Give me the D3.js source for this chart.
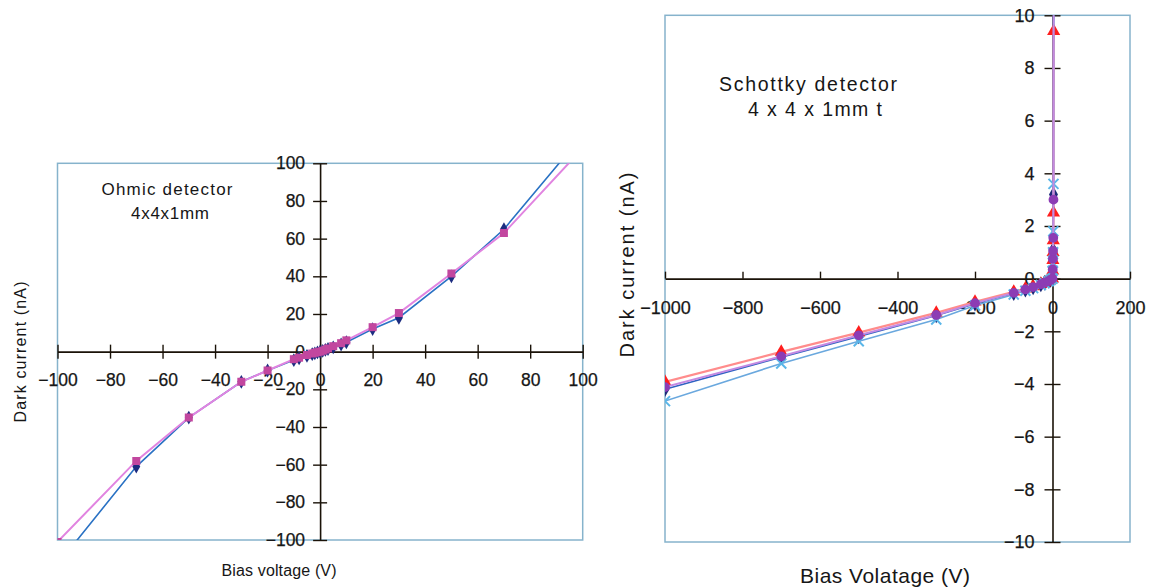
<!DOCTYPE html>
<html>
<head>
<meta charset="utf-8">
<script src="https://cdn.jsdelivr.net/npm/d3@7"></script>
<style>
  html, body { margin: 0; padding: 0; background: #fff; }
  svg { display: block; font-family: "Liberation Sans", Arial, sans-serif; }
</style>
</head>
<body>
<svg id="chart" width="1156" height="588"></svg>
<script>
// ---- Ohmic detector (4x4x1 mm): bias voltage (V) vs dark current (nA)
const ohmicVoltage = [-100, -70, -50, -30, -20, -10, -8, -5, -3, -2, -1, 0, 1, 2, 3, 5, 8, 10, 20, 30, 50, 70, 100];
const ohmicRunA    = [-113, -61, -35, -16, -10, -4.5, -3.5, -2.2, -1.3, -0.9, -0.4, 0, 0.4, 0.9, 1.4, 2.3, 3.8, 5, 12, 18, 40, 65, 115];
const ohmicRunB    = [-101, -58, -35, -16, -10, -4, -3.2, -1.8, -1, -0.6, -0.3, 0, 0.5, 1.1, 1.7, 2.9, 4.5, 6, 13, 20.5, 41.5, 63, 108];
const ohmicXTicks  = [-100, -80, -60, -40, -20, 0, 20, 40, 60, 80, 100];
const ohmicYTicks  = [-100, -80, -60, -40, -20, 0, 20, 40, 60, 80, 100];

// ---- Schottky detector (4x4x1 mm t): bias voltage (V) vs dark current (nA)
const schottkyVoltage = [-1000, -700, -500, -300, -200, -100, -70, -50, -30, -20, -10, -5, 0, 0.5, 1, 1.5, 2, 2.5, 3];
const schottkyRun1 = [-4.2, -2.98, -2.2, -1.4, -0.95, -0.55, -0.42, -0.33, -0.22, -0.16, -0.09, -0.05, 0, 0.3, 0.7, 1.1, 1.6, 3.2, 13];
const schottkyRun2 = [-3.92, -2.78, -2.05, -1.3, -0.88, -0.5, -0.38, -0.3, -0.2, -0.14, -0.08, -0.04, 0, 0.3, 0.7, 1.0, 1.45, 2.5, 9.4];
const schottkyRun3 = [-4.65, -3.22, -2.38, -1.55, -1.02, -0.6, -0.46, -0.36, -0.24, -0.17, -0.1, -0.05, 0, 0.3, 0.6, 1.0, 1.8, 3.6, 15];
const schottkyRun4 = [-4.12, -2.95, -2.15, -1.38, -0.93, -0.54, -0.41, -0.32, -0.21, -0.15, -0.09, -0.05, 0, 0.35, 0.75, 1.05, 1.55, 3.0, 14];
const schottkyXTicks = [-1000, -800, -600, -400, -200, 0, 200];
const schottkyYTicks = [-10, -8, -6, -4, -2, 0, 2, 4, 6, 8, 10];

const svg = d3.select("#chart");
const fmt = d3.format("");
const TEXT = "#161616";
const AXIS = "#1a1208";
const FRAME = "#86b3cc";

// Marker shapes
const diamond = d3.symbol().type(d3.symbolDiamond);
const square = d3.symbol().type(d3.symbolSquare);
const triangle = d3.symbol().type(d3.symbolTriangle);
const circle = d3.symbol().type(d3.symbolCircle);
const xMark = s => `M${-s},${-s}L${s},${s}M${-s},${s}L${s},${-s}`;

function drawPanel(cfg) {
  const g = svg.append("g");
  const x = d3.scaleLinear().domain(cfg.xDomain).range([cfg.left, cfg.right]);
  const y = d3.scaleLinear().domain(cfg.yDomain).range([cfg.bottom, cfg.top]);

  // plot area frame
  g.append("rect")
    .attr("x", cfg.left).attr("y", cfg.top)
    .attr("width", cfg.right - cfg.left).attr("height", cfg.bottom - cfg.top)
    .attr("fill", "#fff").attr("stroke", FRAME).attr("stroke-width", 1.5);

  const clipId = cfg.id + "-clip";
  svg.append("defs").append("clipPath").attr("id", clipId)
    .append("rect")
    .attr("x", cfg.left).attr("y", cfg.top)
    .attr("width", cfg.right - cfg.left).attr("height", cfg.bottom - cfg.top);

  // x axis through y = 0
  const xAxis = g.append("g")
    .attr("transform", `translate(0,${y(0)})`)
    .call(d3.axisBottom(x).tickValues(cfg.xTicks).tickFormat(fmt)
      .tickSizeOuter(0).tickSizeInner(0).tickPadding(cfg.xLabelPad));
  xAxis.select(".domain").attr("stroke", AXIS).attr("stroke-width", 1.6);
  xAxis.selectAll(".tick line")
    .attr("y1", cfg.xTickUp).attr("y2", cfg.xTickDown)
    .attr("stroke", AXIS).attr("stroke-width", 1.4);

  // y axis through x = 0
  const yAxis = g.append("g")
    .attr("transform", `translate(${x(0)},0)`)
    .call(d3.axisLeft(y).tickValues(cfg.yTicks).tickFormat(fmt)
      .tickSizeOuter(0).tickSizeInner(cfg.yTickHalf).tickPadding(cfg.yLabelPad));
  yAxis.select(".domain").attr("stroke", AXIS).attr("stroke-width", 1.6);
  yAxis.selectAll(".tick line")
    .attr("x1", -cfg.yTickHalf).attr("x2", cfg.yTickHalf)
    .attr("stroke", AXIS).attr("stroke-width", 1.4);

  [xAxis, yAxis].forEach(a => {
    a.attr("font-family", null).attr("font-size", null);
    a.selectAll(".tick text")
      .attr("fill", TEXT)
      .attr("stroke", TEXT).attr("stroke-width", 0.25)
      .style("font-size", cfg.tickFont + "px");
  });

  // data series
  const plot = g.append("g").attr("clip-path", `url(#${clipId})`);
  cfg.series.forEach(s => {
    const pts = cfg.xs.map((v, i) => [v, s.values[i]]);
    plot.append("path")
      .datum(pts)
      .attr("fill", "none")
      .attr("stroke", s.line)
      .attr("stroke-width", s.lineWidth)
      .attr("d", d3.line().x(d => x(d[0])).y(d => y(d[1])));
    const m = plot.append("g");
    pts.forEach(d => {
      const t = `translate(${x(d[0])},${y(d[1])})`;
      if (s.shape === "x") {
        m.append("path").attr("d", xMark(s.size)).attr("transform", t)
          .attr("fill", "none").attr("stroke", s.marker).attr("stroke-width", 2);
      } else {
        m.append("path").attr("d", s.shape.size(s.size)()).attr("transform", t)
          .attr("fill", s.marker);
      }
    });
  });

  // axis titles
  g.append("text")
    .attr("x", cfg.xTitle[0]).attr("y", cfg.xTitle[1])
    .attr("text-anchor", "middle").attr("dominant-baseline", "central")
    .attr("fill", TEXT).style("font-size", cfg.xTitle[2] + "px")
    .attr("textLength", cfg.xTitle[3]).attr("lengthAdjust", "spacing")
    .text(cfg.xTitleText);
  g.append("text")
    .attr("transform", `translate(${cfg.yTitle[0]},${cfg.yTitle[1]}) rotate(-90)`)
    .attr("text-anchor", "middle").attr("dominant-baseline", "central")
    .attr("fill", TEXT).style("font-size", cfg.yTitle[2] + "px")
    .attr("textLength", cfg.yTitle[3]).attr("lengthAdjust", "spacing")
    .text(cfg.yTitleText);

  // in-plot caption
  cfg.caption.forEach(c => {
    g.append("text")
      .attr("x", c[1]).attr("y", c[2])
      .attr("text-anchor", "middle").attr("dominant-baseline", "central")
      .attr("fill", TEXT).style("font-size", c[3] + "px")
      .attr("textLength", c[4]).attr("lengthAdjust", "spacing")
      .text(c[0]);
  });
}

drawPanel({
  id: "ohmic",
  left: 57.5, right: 582.7, top: 163.3, bottom: 540,
  xDomain: [-100, 100], yDomain: [-100, 100],
  xTicks: ohmicXTicks, yTicks: ohmicYTicks,
  xLabelPad: 22, xTickUp: -7, xTickDown: 7,
  yTickHalf: 7, yLabelPad: 8, tickFont: 17.5,
  xs: ohmicVoltage,
  series: [
    { values: ohmicRunA, line: "#2a72c4", lineWidth: 1.6, marker: "#1c2c80", shape: diamond, size: 55 },
    { values: ohmicRunB, line: "#e184e0", lineWidth: 2, marker: "#c2479f", shape: square, size: 64 }
  ],
  xTitleText: "Bias voltage (V)", xTitle: [279, 570, 16, 115],
  yTitleText: "Dark current (nA)", yTitle: [20, 352, 16, 141],
  caption: [["Ohmic detector", 167, 189, 17, 131], ["4x4x1mm", 170, 213, 17, 78]]
});

drawPanel({
  id: "schottky",
  left: 665, right: 1130, top: 15.3, bottom: 542,
  xDomain: [-1000, 200], yDomain: [-10, 10],
  xTicks: schottkyXTicks, yTicks: schottkyYTicks,
  xLabelPad: 23, xTickUp: -7, xTickDown: 0,
  yTickHalf: 8, yLabelPad: 10, tickFont: 18,
  xs: schottkyVoltage,
  series: [
    { values: schottkyRun1, line: "#2f62c2", lineWidth: 1.6, marker: "#1d2a7a", shape: diamond, size: 70 },
    { values: schottkyRun2, line: "#ff8c8c", lineWidth: 2.2, marker: "#ff1e1e", shape: triangle, size: 75 },
    { values: schottkyRun3, line: "#6aa8de", lineWidth: 1.6, marker: "#5ab6e8", shape: "x", size: 5 },
    { values: schottkyRun4, line: "#c48ae2", lineWidth: 2, marker: "#8c3cb4", shape: circle, size: 75 }
  ],
  xTitleText: "Bias Volatage (V)", xTitle: [885, 575, 21, 170],
  yTitleText: "Dark current (nA)", yTitle: [627, 265, 20, 185],
  caption: [["Schottky detector", 808, 84, 19.5, 178], ["4 x 4 x 1mm t", 815, 109, 19.5, 134]]
});
</script>
</body>
</html>
